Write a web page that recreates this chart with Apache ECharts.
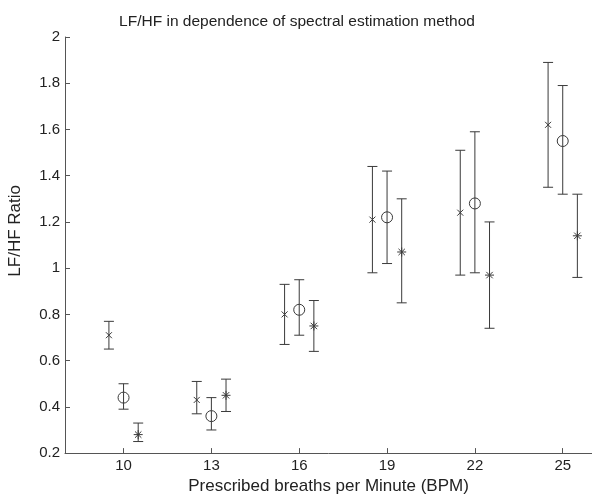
<!DOCTYPE html>
<html>
<head>
<meta charset="utf-8">
<script src="https://cdn.jsdelivr.net/npm/echarts@6/dist/echarts.min.js"></script>
<style>html,body{margin:0;padding:0;background:#fff}#c{width:592px;height:500px}</style>
</head>
<body>
<div id="c"></div>
<script>
var xTicks = [10, 13, 16, 19, 22, 25];
var xCross = [9.5, 12.5, 15.5, 18.5, 21.5, 24.5];
var xCircle = [10, 13, 16, 19, 22, 25];
var xStar = [10.5, 13.5, 16.5, 19.5, 22.5, 25.5];
var crossMean = [0.71, 0.43, 0.80, 1.21, 1.24, 1.62];
var crossLow = [0.65, 0.37, 0.67, 0.98, 0.97, 1.35];
var crossHigh = [0.77, 0.51, 0.93, 1.44, 1.51, 1.89];
var circleMean = [0.44, 0.36, 0.82, 1.22, 1.28, 1.55];
var circleLow = [0.39, 0.30, 0.71, 1.02, 0.98, 1.32];
var circleHigh = [0.50, 0.44, 0.95, 1.42, 1.59, 1.79];
var starMean = [0.28, 0.45, 0.75, 1.07, 0.97, 1.14];
var starLow = [0.25, 0.38, 0.64, 0.85, 0.74, 0.96];
var starHigh = [0.33, 0.52, 0.86, 1.30, 1.20, 1.32];

var FONT = 'Liberation Sans';
var LINE = '#3a3a3a';

function build(xs, mean, low, high) {
  return xs.map(function (x, i) { return [x, mean[i], low[i], high[i]]; });
}

function makeRender(kind) {
  return function (params, api) {
    var x = api.value(0);
    var c = api.coord([x, api.value(1)]);
    var lo = api.coord([x, api.value(2)]);
    var hi = api.coord([x, api.value(3)]);
    var cap = 5;
    var st = { stroke: LINE, lineWidth: 1, fill: null };
    var ch = [
      { type: 'line', shape: { x1: c[0], y1: hi[1], x2: c[0], y2: lo[1] }, style: st },
      { type: 'line', shape: { x1: c[0] - cap, y1: hi[1], x2: c[0] + cap, y2: hi[1] }, style: st },
      { type: 'line', shape: { x1: c[0] - cap, y1: lo[1], x2: c[0] + cap, y2: lo[1] }, style: st }
    ];
    if (kind === 'cross') {
      var s = 3;
      ch.push({ type: 'line', shape: { x1: c[0] - s, y1: c[1] - s, x2: c[0] + s, y2: c[1] + s }, style: st });
      ch.push({ type: 'line', shape: { x1: c[0] - s, y1: c[1] + s, x2: c[0] + s, y2: c[1] - s }, style: st });
    } else if (kind === 'circle') {
      ch.push({ type: 'circle', shape: { cx: c[0], cy: c[1], r: 5.5 }, style: { stroke: LINE, lineWidth: 1, fill: '#fff' } });
      ch.push({ type: 'line', shape: { x1: c[0], y1: c[1] - 5.5, x2: c[0], y2: c[1] + 5.5 }, style: st });
    } else {
      var r = 4.5, d = 3.2;
      ch.push({ type: 'line', shape: { x1: c[0] - r, y1: c[1], x2: c[0] + r, y2: c[1] }, style: st });
      ch.push({ type: 'line', shape: { x1: c[0], y1: c[1] - r, x2: c[0], y2: c[1] + r }, style: st });
      ch.push({ type: 'line', shape: { x1: c[0] - d, y1: c[1] - d, x2: c[0] + d, y2: c[1] + d }, style: st });
      ch.push({ type: 'line', shape: { x1: c[0] - d, y1: c[1] + d, x2: c[0] + d, y2: c[1] - d }, style: st });
    }
    return { type: 'group', children: ch };
  };
}

var chart = echarts.init(document.getElementById('c'), null, { renderer: 'canvas' });
chart.setOption({
  animation: false,
  backgroundColor: '#fff',
  textStyle: { fontFamily: FONT },
  title: {
    text: 'LF/HF in dependence of spectral estimation method',
    left: 292, top: 9, textAlign: 'center',
    textStyle: { fontFamily: FONT, fontSize: 15.5, fontWeight: 'normal', color: '#222' }
  },
  grid: { left: 65, top: 37, width: 531, height: 420.5, containLabel: false },
  xAxis: {
    type: 'value', min: 8, max: 26,
    name: 'Prescribed breaths per Minute (BPM)',
    nameLocation: 'middle', nameGap: 22,
    nameTextStyle: { fontFamily: FONT, fontSize: 17, color: '#222' },
    axisLine: { lineStyle: { color: '#555', width: 1 } },
    axisTick: { inside: true, length: 5, customValues: xTicks, lineStyle: { color: '#555' } },
    axisLabel: { customValues: xTicks, fontFamily: FONT, fontSize: 15, color: '#222', margin: 5 },
    splitLine: { show: false }
  },
  yAxis: {
    type: 'value', min: 0.2, max: 2, interval: 0.2,
    axisLine: { show: true, lineStyle: { color: '#555', width: 1 } },
    axisTick: { show: true, inside: true, length: 5, lineStyle: { color: '#555' } },
    axisLabel: { fontFamily: FONT, fontSize: 15, color: '#222', margin: 5,
      formatter: function (v) { return String(+v.toFixed(1)); } },
    splitLine: { show: false }
  },
  graphic: [{
    type: 'text', left: 7, top: 185, rotation: Math.PI / 2,
    style: { text: 'LF/HF Ratio', fontFamily: FONT, fontSize: 17, fill: '#222' }
  }],
  series: [
    { type: 'custom', name: 'cross', renderItem: makeRender('cross'), data: build(xCross, crossMean, crossLow, crossHigh), encode: { x: 0, y: [1, 2, 3] }, clip: false },
    { type: 'custom', name: 'circle', renderItem: makeRender('circle'), data: build(xCircle, circleMean, circleLow, circleHigh), encode: { x: 0, y: [1, 2, 3] }, clip: false },
    { type: 'custom', name: 'star', renderItem: makeRender('star'), data: build(xStar, starMean, starLow, starHigh), encode: { x: 0, y: [1, 2, 3] }, clip: false }
  ]
});
</script>
</body>
</html>
